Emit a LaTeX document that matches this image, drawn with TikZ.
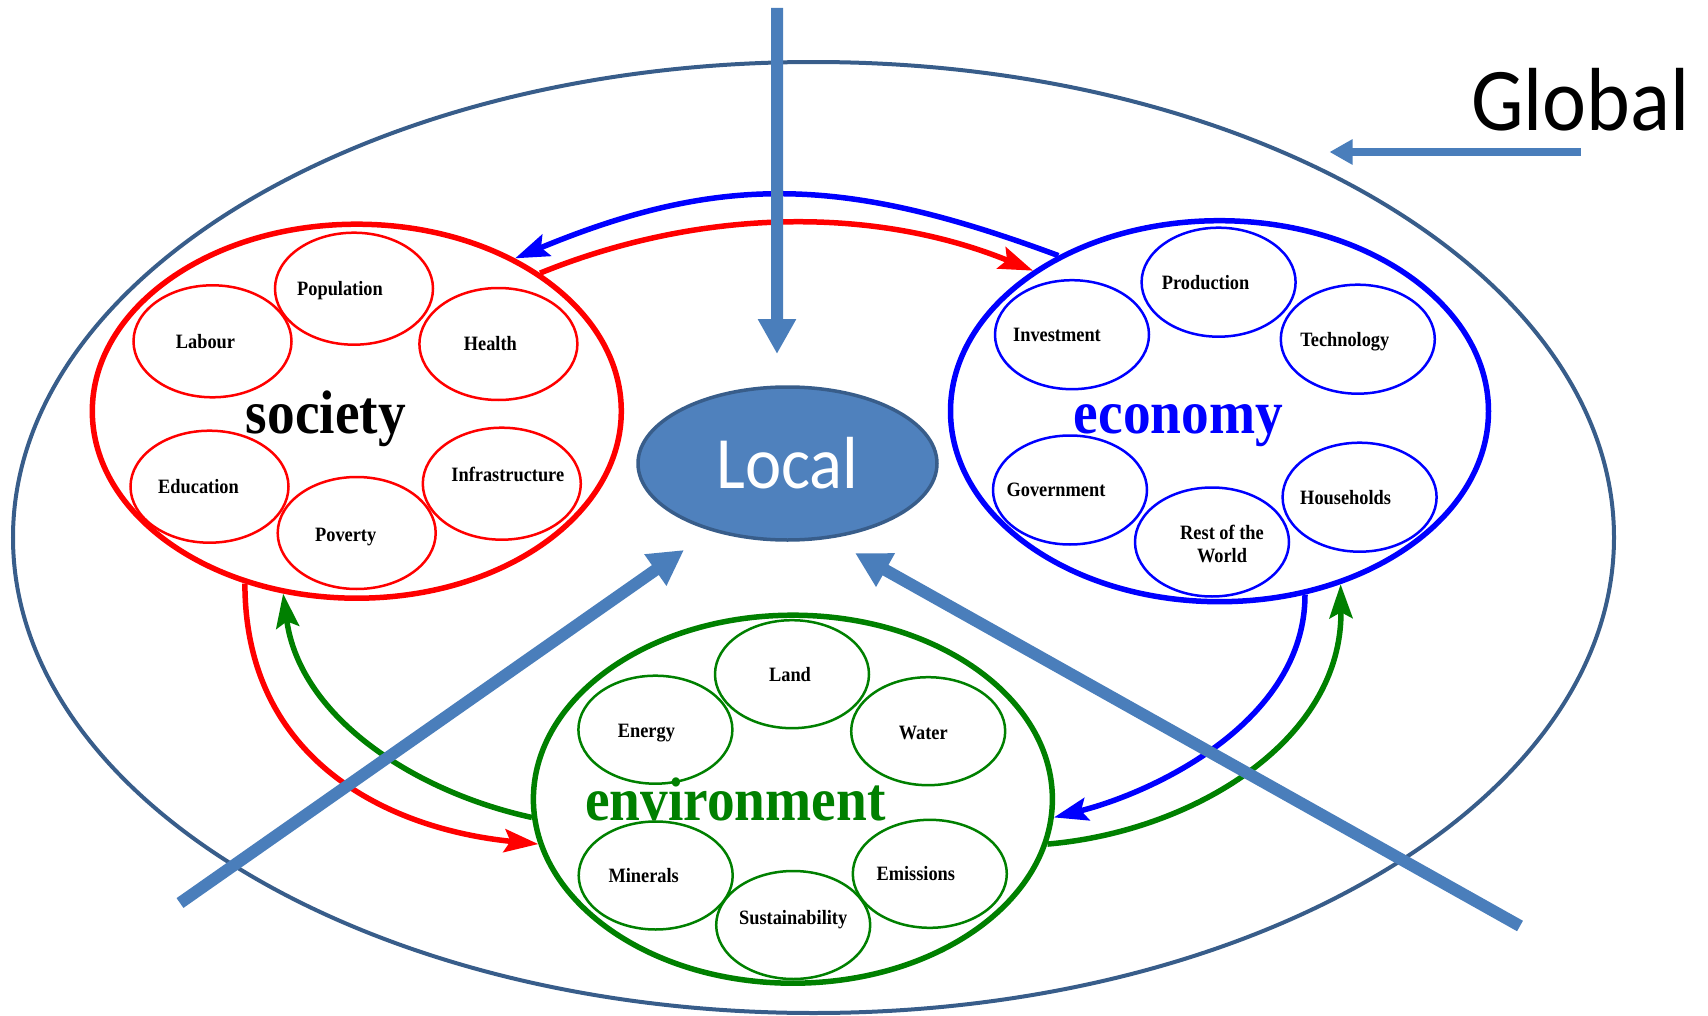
\documentclass[tikz,border=0pt]{standalone}
\usepackage{fontspec}
\newfontfamily\timesfont[FakeStretch=0.9]{Liberation Serif}
\newfontfamily\calibrifont[FakeStretch=0.93]{Carlito}
\usetikzlibrary{arrows.meta,calc,shapes.geometric}

\definecolor{globalblue}{RGB}{56,93,138}
\definecolor{localblue}{RGB}{79,129,189}
\definecolor{arrowblue}{RGB}{74,126,187}
\definecolor{envgreen}{RGB}{0,128,0}

\tikzset{
	bigpart/.style={ellipse, draw, line width=0.055cm, inner sep=0pt},
	part/.style={ellipse, line width=0.025cm, inner sep=0pt},
	socpart/.style={part, draw=red, minimum width=1.58cm, minimum height=1.12cm},
	ecopart/.style={part, draw=blue, minimum width=1.54cm, minimum height=1.09cm},
	envpart/.style={part, draw=envgreen, minimum width=1.54cm, minimum height=1.08cm},
	lbl/.style={inner sep=0pt, align=center, font=\timesfont\bfseries\fontsize{5.8}{6.8}\selectfont},
	biglbl/.style={anchor=base, inner sep=0pt, font=\timesfont\bfseries\fontsize{17.5}{21}\selectfont},
	flow/.style={line width=0.055cm, -{Stealth[length=0.34cm, width=0.23cm, inset=0.06cm]}},
	bigarrow/.style={arrowblue, line width=0.12cm, -{Triangle[length=0.35cm, width=0.36cm]}}
}

\begin{document}
\begin{tikzpicture}
			%%%%% START %%%%%
			\useasboundingbox (0, 0) rectangle (17.08, 10.15);
			
			\draw[globalblue, line width=0.04cm] (8.135, 4.775) ellipse (8.005 and 4.755);
			
			\node[bigpart, red, minimum width=5.29cm, minimum height=3.74cm] (soc) at (3.568, 6.038) {};
			\node[socpart] (pop) at (3.54, 7.263) {};
			\node[socpart] (lab) at (2.125, 6.737) {};
			\node[socpart] (hea) at (4.984, 6.71) {};
			\node[socpart] (edu) at (2.095, 5.283) {};
			\node[socpart] (pov) at (3.567, 4.82) {};
			\node[socpart] (inf) at (5.018, 5.313) {};
			\node[lbl] (poptxt) at ($(pop)+(-0.14, -0.02)$) {Population};
			\node[lbl] (labtxt) at ($(lab)+(-0.07, 0)$) {Labour};
			\node[lbl] (heatxt) at ($(hea)+(-0.08, 0)$) {Health};
			\node[lbl] (edutxt) at ($(edu)+(-0.11, 0)$) {Education};
			\node[lbl] (povtxt) at ($(pov)+(-0.11, -0.04)$) {Poverty};
			\node[lbl] (inftxt) at ($(inf)+(0.06, 0.09)$) {Infrastructure};
			\node[biglbl] (soclbl) at (3.259, 5.817) {society};
			
			\node[bigpart, blue, minimum width=5.38cm, minimum height=3.81cm] (eco) at (12.195, 6.038) {};
			\node[ecopart] (prod) at (12.186, 7.328) {};
			\node[ecopart] (inv) at (10.72, 6.803) {};
			\node[ecopart] (tech) at (13.578, 6.758) {};
			\node[ecopart] (gov) at (10.70, 5.25) {};
			\node[ecopart] (row) at (12.12, 4.73) {};
			\node[ecopart] (hh) at (13.596, 5.178) {};
			\node[lbl] (prodtxt) at ($(prod)+(-0.13, 0)$) {Production};
			\node[lbl] (invtxt) at ($(inv)+(-0.15, 0)$) {Investment};
			\node[lbl] (techtxt) at ($(tech)+(-0.13, -0.02)$) {Technology};
			\node[lbl] (govtxt) at ($(gov)+(-0.14, 0)$) {Government};
			\node[lbl] (rowtxt) at ($(row)+(0.10, -0.02)$) {Rest of the\\ World};
			\node[lbl] (hhtxt) at ($(hh)+(-0.14, 0)$) {Households};
			\node[biglbl, blue] (ecolbl) at (11.784, 5.817) {economy};
			
			\node[bigpart, envgreen, minimum width=5.19cm, minimum height=3.68cm] (env) at (7.929, 2.158) {};
			\node[envpart] (land) at (7.92, 3.408) {};
			\node[envpart] (enr) at (6.554, 2.853) {};
			\node[envpart] (wat) at (9.282, 2.838) {};
			\node[envpart] (min) at (6.557, 1.395) {};
			\node[envpart] (sus) at (7.932, 0.90) {};
			\node[envpart] (emi) at (9.298, 1.412) {};
			\node[lbl] (landtxt) at ($(land)+(-0.02, 0)$) {Land};
			\node[lbl] (enrtxt) at ($(enr)+(-0.09, -0.03)$) {Energy};
			\node[lbl] (wattxt) at ($(wat)+(-0.05, -0.02)$) {Water};
			\node[lbl] (mintxt) at ($(min)+(-0.12, 0)$) {Minerals};
			\node[lbl] (sustxt) at ($(sus)+(0, 0.05)$) {Sustainability};
			\node[lbl] (emitxt) at ($(emi)+(-0.14, 0)$) {Emissions};
			\node[biglbl, envgreen] (envlbl) at (7.354, 1.95) {environment};
			
			\draw[flow, red] (soc.37) .. controls +(1.6, 0.65) and +(-1.6, 0.65) .. (eco.143);
			\draw[flow, blue] (eco.136) .. controls +(-2.1, 0.78) and +(2.1, 0.87) .. (soc.44);
			\draw[flow, red] (soc.-123) .. controls +(0, -1.77) and +(-1.5, 0.15) .. (env.190);
			\draw[flow, envgreen] (env.184) .. controls +(-1.15, 0.25) and +(0.17, -1.25) .. (soc.-112);
			\draw[flow, blue] (eco.-65) .. controls +(0, -1.27) and +(1.0, 0.25) .. (env.-4);
			\draw[flow, envgreen] (env.-10) .. controls +(1.43, 0.12) and +(0.02, -1.58) .. (eco.-55);
			
			\node[ellipse, draw=globalblue, fill=localblue, line width=0.035cm, inner sep=0pt,
				minimum width=2.99cm, minimum height=1.53cm, text=white,
				font=\calibrifont\fontsize{21}{25}\selectfont] (local) at (7.875, 5.515) {Local};
			
			\node[anchor=base, inner sep=0pt, font=\calibrifont\fontsize{25.5}{30}\selectfont] (glob) at (15.805, 8.85) {Global};
			
			\coordinate (topin) at (7.77, 10.07);
			\coordinate (llin) at (1.80, 1.12);
			\coordinate (lrin) at (15.20, 0.89);
			
			\draw[bigarrow] (topin) -- ($(local)+(-0.105, 1.095)$);
			\draw[bigarrow] (llin) -- ($(local)+(-1.035, -0.865)$);
			\draw[bigarrow] (lrin) -- ($(local)+(0.675, -0.895)$);
			\draw[bigarrow, line width=0.08cm, -{Triangle[length=0.23cm, width=0.24cm]}] ($(glob.base)+(0, -0.22)$) -- ++(-2.51, 0);
			
			%%%%% END %%%%%
		\end{tikzpicture}
\end{document}
